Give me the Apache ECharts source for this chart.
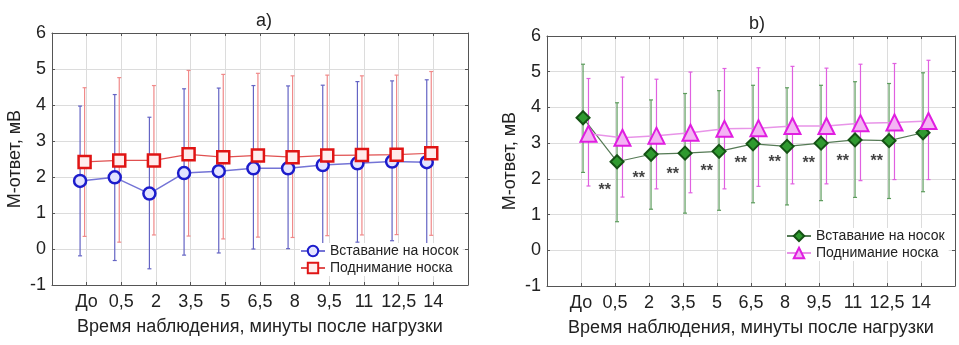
<!DOCTYPE html>
<html>
<head>
<meta charset="utf-8">
<script src="https://cdn.jsdelivr.net/npm/echarts@6/dist/echarts.min.js"></script>
<style>html,body{margin:0;padding:0;background:#fff}#c{width:959px;height:345px}</style>
</head>
<body>
<div id="c"></div>
<script>
// ---- data ----
const categories = ['До','0,5','2','3,5','5','6,5','8','9,5','11','12,5','14'];
const seriesNameA = 'Вставание на носок';
const seriesNameB = 'Поднимание носка';
const yTicks = [-1,0,1,2,3,4,5,6];

// panel a)
const aStandMean = [1.89, 1.99, 1.54, 2.11, 2.16, 2.24, 2.24, 2.33, 2.38, 2.43, 2.41];
const aStandLow  = [-0.19, -0.32, -0.55, -0.17, -0.11, 0.00, 0.01, 0.11, 0.19, 0.23, 0.15];
const aStandHigh = [3.97, 4.29, 3.66, 4.45, 4.47, 4.54, 4.53, 4.55, 4.65, 4.67, 4.70];
const aLiftMean  = [2.42, 2.46, 2.46, 2.63, 2.55, 2.60, 2.55, 2.60, 2.61, 2.62, 2.66];
const aLiftLow   = [0.35, 0.19, 0.39, 0.36, 0.28, 0.33, 0.32, 0.37, 0.39, 0.40, 0.38];
const aLiftHigh  = [4.48, 4.76, 4.54, 4.96, 4.85, 4.88, 4.81, 4.83, 4.81, 4.83, 4.93];

// panel b)
const bStandMean = [3.71, 2.48, 2.69, 2.72, 2.77, 2.98, 2.91, 3.00, 3.09, 3.07, 3.29];
const bStandLow  = [2.18, 0.80, 1.15, 1.04, 1.12, 1.33, 1.27, 1.39, 1.48, 1.45, 1.64];
const bStandHigh = [5.21, 4.13, 4.21, 4.39, 4.47, 4.62, 4.55, 4.62, 4.72, 4.67, 4.97];
const bLiftMean  = [3.26, 3.15, 3.21, 3.29, 3.40, 3.42, 3.48, 3.48, 3.56, 3.58, 3.62];
const bLiftLow   = [1.80, 1.49, 1.72, 1.61, 1.72, 1.79, 1.86, 1.86, 1.95, 1.98, 1.98];
const bLiftHigh  = [4.81, 4.85, 4.79, 4.99, 5.09, 5.11, 5.15, 5.10, 5.21, 5.23, 5.32];

// significance marks "**" in panel b) (next to categories 0,5 ... 12,5)
const starCats = ['0,5','2','3,5','5','6,5','8','9,5','11','12,5'];
const starY    = [1.81, 2.16, 2.27, 2.34, 2.58, 2.59, 2.58, 2.62, 2.61];
const starText = '**';

// ---- presentation ----
const FONT = 'Liberation Sans, Arial, sans-serif';
const TXT = '#222';
const off = { aStand: -0.19, aLift: -0.06, bStand: 0.06, bLift: 0.22, star: -0.3 };
// internal series ids -> displayed legend text
const legendText = { aStand: seriesNameA, aLift: seriesNameB, bStand: seriesNameA, bLift: seriesNameB };

function pts(vals, dx) { return vals.map((v, i) => [i + dx, v]); }
function errs(lo, hi, dx) { return lo.map((l, i) => [i + dx, l, hi[i]]); }

function errSeries(lo, hi, dx, color, gi) {
  return {
    type: 'custom', xAxisIndex: gi * 2, yAxisIndex: gi * 2, silent: true, z: 1,
    data: errs(lo, hi, dx),
    renderItem: function (params, api) {
      const x = api.value(0);
      const p1 = api.coord([x, api.value(1)]);
      const p2 = api.coord([x, api.value(2)]);
      const cw = 2;
      const st = { stroke: color, lineWidth: 1.2 };
      return { type: 'group', children: [
        { type: 'line', shape: { x1: p1[0], y1: p1[1], x2: p2[0], y2: p2[1] }, style: st },
        { type: 'line', shape: { x1: p1[0] - cw, y1: p1[1], x2: p1[0] + cw, y2: p1[1] }, style: st },
        { type: 'line', shape: { x1: p2[0] - cw, y1: p2[1], x2: p2[0] + cw, y2: p2[1] }, style: st }
      ]};
    }
  };
}

function lineSeries(name, vals, dx, gi, symbol, size, fill, border, bw, lineColor, lw) {
  return {
    name: name, type: 'line', xAxisIndex: gi * 2, yAxisIndex: gi * 2, z: 3,
    data: pts(vals, dx), symbol: symbol, symbolSize: size, showAllSymbol: true,
    itemStyle: { color: fill, borderColor: border, borderWidth: bw },
    lineStyle: { color: lineColor, width: lw },
    emphasis: { disabled: true }, animation: false
  };
}

const grids = [
  { left: 52, top: 33, width: 416, height: 252 },
  { left: 547, top: 36, width: 408, height: 250 }
];

const axisLineStyle = { show: true, onZero: false, lineStyle: { color: '#555', width: 1 } };
const tickStyle = { show: true, inside: true, length: 3, lineStyle: { color: '#555' } };
const xAxes = [], yAxes = [];
[0, 1].forEach(gi => {
  xAxes.push({
    type: 'value', gridIndex: gi, min: -1, max: 11, interval: 1, position: 'bottom',
    axisLine: axisLineStyle, axisTick: tickStyle,
    splitLine: { show: true, lineStyle: { color: '#dcdcdc', width: 1 } },
    axisLabel: { color: TXT, fontFamily: FONT, fontSize: 18, margin: 8,
      formatter: v => (v >= 0 && v < categories.length) ? categories[v] : '' },
    name: 'Время наблюдения, минуты после нагрузки', nameLocation: 'middle', nameGap: 33,
    nameTextStyle: { color: TXT, fontFamily: FONT, fontSize: 18 }
  });
  xAxes.push({
    type: 'value', gridIndex: gi, min: -1, max: 11, interval: 1, position: 'top',
    axisLine: axisLineStyle, axisTick: tickStyle,
    splitLine: { show: false }, axisLabel: { show: false }
  });
  yAxes.push({
    type: 'value', gridIndex: gi, min: yTicks[0], max: yTicks[yTicks.length - 1], interval: 1, position: 'left',
    axisLine: axisLineStyle, axisTick: tickStyle,
    splitLine: { show: true, lineStyle: { color: '#dcdcdc', width: 1 } },
    axisLabel: { color: TXT, fontFamily: FONT, fontSize: 18, margin: 6 },
    name: 'М-ответ, мВ', nameLocation: 'middle', nameGap: 28,
    nameTextStyle: { color: TXT, fontFamily: FONT, fontSize: 18 }
  });
  yAxes.push({
    type: 'value', gridIndex: gi, min: yTicks[0], max: yTicks[yTicks.length - 1], interval: 1, position: 'right',
    axisLine: axisLineStyle, axisTick: tickStyle,
    splitLine: { show: false }, axisLabel: { show: false }
  });
});

const C = {
  blue: '#1c1ccc', blueFill: '#e4e4ff', blueLine: '#7474d6', blueErr: '#6464c4',
  red: '#e01414', redFill: '#ffecec', redLine: '#e05050', redErr: '#f08a8a',
  green: '#2f9a2f', greenBorder: '#145214', greenLine: '#557a55', greenErr: '#5c9c5c',
  mag: '#e01ee0', magFill: '#f4b4f4', magLine: '#e894e8', magErr: '#e060e0'
};

const series = [
  errSeries(aStandLow, aStandHigh, off.aStand, C.blueErr, 0),
  errSeries(aLiftLow, aLiftHigh, off.aLift, C.redErr, 0),
  lineSeries('aStand', aStandMean, off.aStand, 0, 'circle', 12, C.blueFill, C.blue, 2.5, C.blueLine, 1.5),
  lineSeries('aLift', aLiftMean, off.aLift, 0, 'rect', 12, C.redFill, C.red, 2.5, C.redLine, 1.2),
  errSeries(bStandLow, bStandHigh, off.bStand, C.greenErr, 1),
  errSeries(bLiftLow, bLiftHigh, off.bLift, C.magErr, 1),
  lineSeries('bStand', bStandMean, off.bStand, 1, 'diamond', 13, C.green, C.greenBorder, 2, C.greenLine, 1.2),
  lineSeries('bLift', bLiftMean, off.bLift, 1, 'triangle', 16, C.magFill, C.mag, 2, C.magLine, 1.5),
  {
    type: 'scatter', xAxisIndex: 2, yAxisIndex: 2, symbolSize: 1, silent: true, z: 4,
    itemStyle: { color: 'rgba(0,0,0,0)' },
    data: starY.map((y, i) => [categories.indexOf(starCats[i]) + off.star, y]),
    label: { show: true, position: 'inside', formatter: starText, color: '#111',
      fontFamily: FONT, fontSize: 16, fontWeight: 'bold', offset: [0, 5] }
  }
];

const legendCommon = {
  orient: 'vertical', itemWidth: 24, itemHeight: 13, itemGap: 3,
  backgroundColor: '#fff', padding: [1, 4, 1, 0],
  textStyle: { color: TXT, fontFamily: FONT, fontSize: 14 },
  formatter: n => legendText[n], selectedMode: false
};

const option = {
  animation: false,
  backgroundColor: '#fff',
  title: [
    { text: 'a)', left: 259, top: 7, textAlign: 'center',
      textStyle: { color: TXT, fontFamily: FONT, fontSize: 18, fontWeight: 'normal' } },
    { text: 'b)', left: 752, top: 10, textAlign: 'center',
      textStyle: { color: TXT, fontFamily: FONT, fontSize: 18, fontWeight: 'normal' } }
  ],
  grid: grids,
  xAxis: xAxes,
  yAxis: yAxes,
  legend: [
    Object.assign({}, legendCommon, { left: 300, top: 243, data: ['aStand', 'aLift'] }),
    Object.assign({}, legendCommon, { left: 786, top: 228, data: ['bStand', 'bLift'] })
  ],
  series: series
};

const chart = echarts.init(document.getElementById('c'), null, { renderer: 'canvas' });
chart.setOption(option);
</script>
</body>
</html>
